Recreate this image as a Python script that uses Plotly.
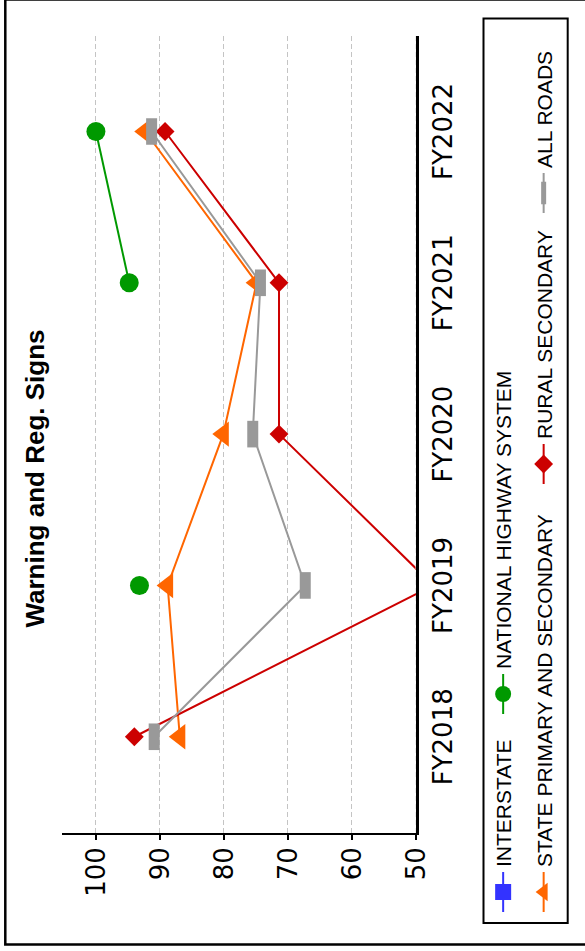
import plotly.graph_objects as go

# ---------------- data ----------------
categories = ["FY2018", "FY2019", "FY2020", "FY2021", "FY2022"]
interstate = [None, None, None, None, None]
national_highway_system = [None, 93.2, None, 94.8, 100.0]
state_primary_secondary = [86.9, 88.8, 80.1, 74.9, 92.3]
rural_secondary = [94.0, 47.3, 71.4, 71.4, 89.2]
all_roads = [90.9, 67.3, 75.5, 74.3, 91.3]
value_ticks = [50, 60, 70, 80, 90, 100]
title_text = "Warning and Reg. Signs"

# ---------------- geometry (unrotated figure) ----------------
W, H = 951, 585
ML, MR, MT, MB = 118, 36, 62, 169
PW = W - ML - MR
PH = H - MT - MB


def px_x(p):
    return (p - ML) / PW


def px_y(p):
    return (H - MB - p) / PH


TICK_FONT = dict(family="DejaVu Sans", size=26, color="black")
LEG_FONT = dict(family="Liberation Sans", size=21, color="black")

series = [
    ("INTERSTATE", interstate, "#3333ff",
     dict(symbol="square", size=18), "legend"),
    ("NATIONAL HIGHWAY SYSTEM", national_highway_system, "#009900",
     dict(symbol="circle", size=19), "legend2"),
    ("STATE PRIMARY AND SECONDARY", state_primary_secondary, "#ff6600",
     dict(symbol="triangle-up", size=22), "legend3"),
    ("RURAL SECONDARY", rural_secondary, "#cc0000",
     dict(symbol="diamond", size=14.5), "legend4"),
    ("ALL ROADS", all_roads, "#999999",
     dict(symbol="line-ew", size=19), "legend5"),
]

fig = go.Figure()
for name, vals, color, mk, leg in series:
    marker = dict(color=color, **mk)
    if mk["symbol"] == "line-ew":
        marker["line"] = dict(width=11, color=color)
    else:
        marker["line"] = dict(width=0)
    fig.add_trace(go.Scatter(
        x=categories, y=vals, name=name, mode="lines+markers",
        line=dict(color=color, width=2), marker=marker,
        connectgaps=False, legend=leg, showlegend=True,
    ))

legend_common = dict(bgcolor="rgba(0,0,0,0)", borderwidth=0, font=LEG_FONT,
                     itemwidth=40, xanchor="left", yanchor="top",
                     orientation="h", visible=True)
row1 = px_y(483)
row2 = px_y(523.5)

fig.update_layout(
    width=W, height=H, showlegend=True,
    margin=dict(l=ML, r=MR, t=MT, b=MB, pad=0, autoexpand=False),
    paper_bgcolor="white", plot_bgcolor="white",
    title=dict(text=title_text, x=472.5 / W, xref="container", xanchor="center",
               y=1 - 35 / H, yref="container", yanchor="middle",
               font=dict(family="Liberation Sans", size=26, color="black",
                         weight="bold")),
    xaxis=dict(type="category", categoryorder="array", categoryarray=categories,
               range=[-0.636, 4.631], showgrid=False, zeroline=False,
               showline=True, linecolor="black", linewidth=3, ticks="",
               tickfont=TICK_FONT, ticklabelstandoff=2),
    yaxis=dict(range=[50, 105.3], tickmode="array", tickvals=value_ticks,
               showgrid=True, gridcolor="#c4c4c4", gridwidth=1,
               griddash="5px,3px", zeroline=False, showline=True,
               linecolor="black", linewidth=2, ticks="outside", ticklen=5,
               tickwidth=2, tickcolor="black", tickfont=TICK_FONT,
               ticklabelstandoff=2),
    legend=dict(x=px_x(34), y=row1, **legend_common),
    legend2=dict(x=px_x(232), y=row1, **legend_common),
    legend3=dict(x=px_x(34), y=row2, **legend_common),
    legend4=dict(x=px_x(462), y=row2, **legend_common),
    legend5=dict(x=px_x(733), y=row2, **legend_common),
    shapes=[
        # dashed grid line riding on the category axis line
        dict(type="line", xref="paper", yref="y", x0=0, x1=1, y0=50, y1=50,
             line=dict(color="#dddddd", width=1, dash="5px,3px"), layer="above"),
        # legend frame
        dict(type="rect", xref="paper", yref="paper",
             x0=px_x(28), x1=px_x(932.5), y0=px_y(567.7), y1=px_y(483.5),
             line=dict(color="black", width=2), layer="above"),
        # outer frame
        dict(type="rect", xref="paper", yref="paper",
             x0=px_x(6.5), x1=px_x(951.5), y0=px_y(592), y1=px_y(5.3),
             line=dict(color="black", width=2.5), layer="above"),
    ],
)

post_script = """
var gd = document.getElementById('{plot_id}');
var wrap = gd.parentElement;
document.documentElement.style.margin = '0';
document.documentElement.style.overflow = 'hidden';
document.body.style.margin = '0';
document.body.style.overflow = 'hidden';
wrap.style.position = 'absolute';
wrap.style.left = '0px';
wrap.style.top = '0px';
wrap.style.width = '951px';
wrap.style.height = '585px';
wrap.style.transformOrigin = '0 0';
wrap.style.transform = 'translate(0px, 951px) rotate(-90deg)';
"""

fig.write_html("out.html", config={"displayModeBar": False},
               post_script=post_script)
